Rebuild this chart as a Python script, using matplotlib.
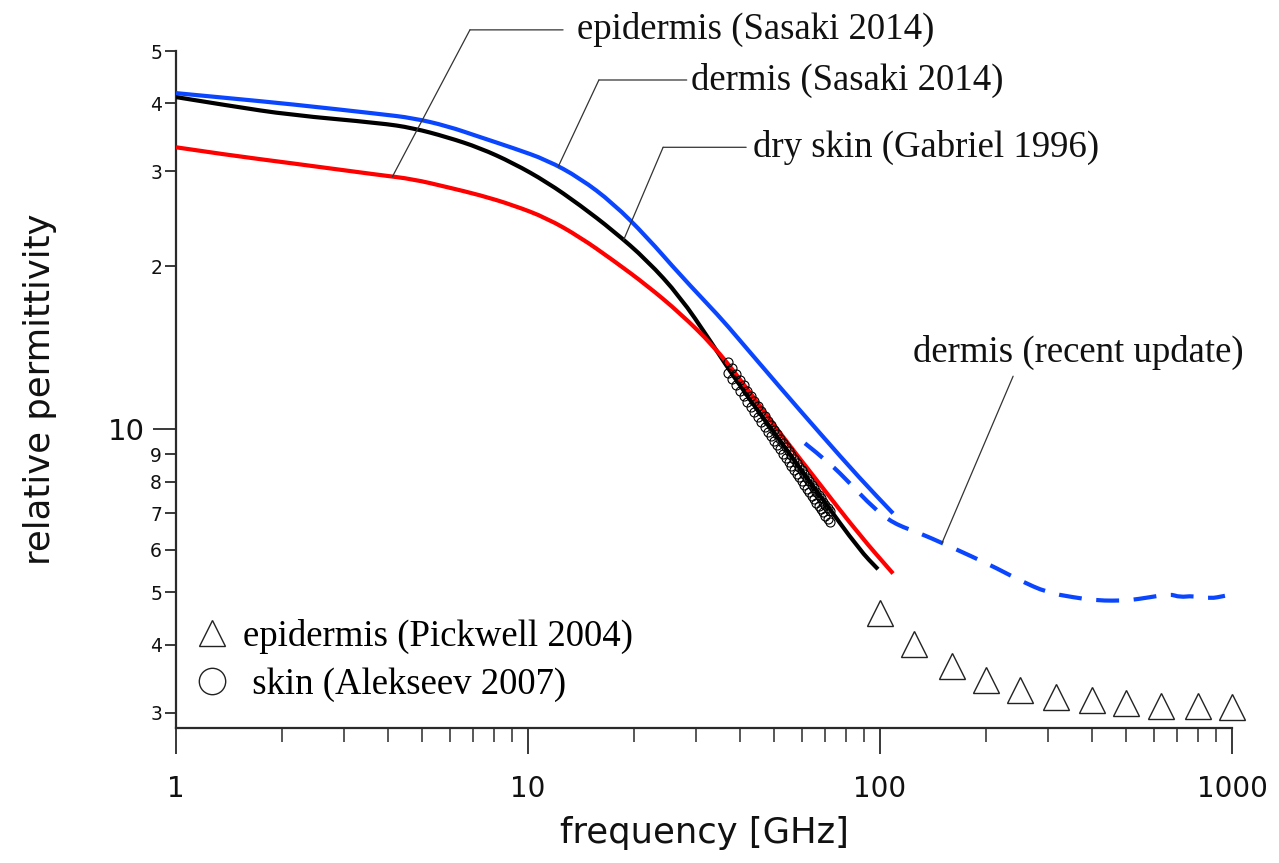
import numpy as np
import matplotlib
matplotlib.use("Agg")
import matplotlib.pyplot as plt
from matplotlib.ticker import FixedLocator, FixedFormatter, LogLocator, NullFormatter
from matplotlib.lines import Line2D
from matplotlib.path import Path
from matplotlib.patches import PathPatch

# ---------------- data ----------------
# epidermis (Sasaki 2014) - red
epi_f = [1, 1.42, 2.11, 3.80, 4.71, 5.89, 7.31, 9.07, 11.32, 14.05, 17.44, 21.78, 27.03, 33.55, 40.0,
         52.0, 67.5, 87.7, 108.9]
epi_eps = [33.2, 32.1, 31.05, 29.5, 29.0, 28.03, 27.09, 25.96, 24.56, 22.66, 20.54, 18.45, 16.4, 14.3, 12.4,
           9.84, 7.92, 6.37, 5.42]

# dermis (Sasaki 2014) - blue
der_f = [1, 1.42, 2.11, 3.80, 4.71, 5.89, 7.31, 9.07, 11.32, 14.05, 17.44, 21.78, 27.03, 35.12, 39.3,
         52.0, 67.5, 87.7, 108.9]
der_eps = [41.8, 40.9, 39.9, 38.24, 37.6, 36.35, 34.67, 33.1, 31.45, 29.12, 26.18, 22.66, 19.3, 16.12, 14.8,
           11.96, 9.84, 8.12, 7.0]

# dry skin (Gabriel 1996) - black
dry_f = [1, 1.42, 2.11, 3.80, 4.71, 5.89, 7.31, 9.07, 11.32, 14.05, 17.44, 21.78, 27.03, 32.9, 40.0,
         52.0, 67.5, 87.7, 98.7]
dry_eps = [41.1, 39.6, 38.1, 36.8, 36.04, 34.67, 33.1, 31.05, 28.63, 25.96, 23.3, 20.54, 17.6, 14.6, 12.02,
           9.55, 7.55, 5.98, 5.52]

# dermis (recent update) - blue dashed
new_f = [61.2, 72.1, 82.2, 95.5, 108.9, 130, 151, 180, 215, 250, 298, 353, 413, 503, 585, 666, 711, 774, 866, 955]
new_eps = [9.43, 8.66, 7.95, 7.18, 6.71, 6.43, 6.16, 5.85, 5.54, 5.26, 5.00, 4.90, 4.83, 4.83, 4.90, 4.97, 4.90,
           4.93, 4.87, 4.93]

# epidermis (Pickwell 2004) - triangles
pick_f = [100, 125, 160, 200, 250, 316, 400, 500, 630, 800, 1000]
pick_eps = [4.58, 4.02, 3.66, 3.44, 3.30, 3.20, 3.16, 3.12, 3.09, 3.08, 3.07]

# skin (Alekseev 2007) - circles
alek_f = [37, 38, 39, 40, 41, 42, 43, 44, 45, 46, 47, 48, 49, 50, 51, 52, 53, 54, 55, 56, 57, 58, 59, 60,
          61, 62, 63, 64, 65, 66, 67, 68, 69, 70, 71, 72]
alek_eps_a = [13.3, 12.97, 12.65, 12.35, 12.06, 11.79, 11.53, 11.28, 11.04, 10.81, 10.59, 10.38, 10.19, 9.99,
              9.80, 9.62, 9.45, 9.28, 9.13, 8.97, 8.82, 8.68, 8.54, 8.40, 8.27, 8.14, 8.02, 7.90, 7.79, 7.67,
              7.57, 7.46, 7.36, 7.26, 7.16, 7.07]
alek_eps_b = [12.70, 12.39, 12.08, 11.79, 11.52, 11.26, 11.01, 10.77, 10.54, 10.32, 10.11, 9.91, 9.73, 9.54,
              9.36, 9.19, 9.02, 8.86, 8.72, 8.57, 8.42, 8.29, 8.16, 8.02, 7.90, 7.77, 7.66, 7.54, 7.44, 7.32,
              7.23, 7.12, 7.03, 6.93, 6.84, 6.75]

x_ticks = [1, 10, 100, 1000]
x_ticklabels = ["1", "10", "100", "1000"]
y_major = [10]
y_major_labels = ["10"]
y_minor = [3, 4, 5, 6, 7, 8, 9, 20, 30, 40, 50]
y_minor_labels = ["3", "4", "5", "6", "7", "8", "9", "2", "3", "4", "5"]

# ---------------- figure ----------------
SERIF = ["Liberation Serif", "DejaVu Serif"]
SANS = ["DejaVu Sans"]
AX = "#2a2a2a"
BLUE = "#0a46ff"
RED = "#ff0000"

fig = plt.figure(figsize=(12.79, 8.63), dpi=100)
ax = fig.add_axes([176 / 1279, 1 - 728 / 863, (1232 - 176) / 1279, (728 - 51) / 863])
ax.set_xscale("log")
ax.set_yscale("log")
ax.set_xlim(1, 1000)
ax.set_ylim(2.81, 50)


def smooth_curve(xs, ys, **kw):
    """Draw the read points as a smooth quadratic-Bezier curve (points used as control points)."""
    pts = list(zip(xs, ys))
    verts = [pts[0]]
    codes = [Path.MOVETO]
    for i in range(1, len(pts) - 1):
        (x0, y0), (x1, y1) = pts[i], pts[i + 1]
        mid = (np.sqrt(x0 * x1), np.sqrt(y0 * y1))  # midpoint in log space
        verts += [pts[i], mid]
        codes += [Path.CURVE3, Path.CURVE3]
    verts.append(pts[-1])
    codes.append(Path.LINETO)
    patch = PathPatch(Path(verts, codes), fill=False, **kw)
    ax.add_patch(patch)
    return patch


smooth_curve(der_f, der_eps, edgecolor=BLUE, lw=3, capstyle="butt", zorder=3)
smooth_curve(dry_f, dry_eps, edgecolor="black", lw=3, capstyle="butt", zorder=3)
smooth_curve(epi_f, epi_eps, edgecolor=RED, lw=3, capstyle="butt", zorder=3)
smooth_curve(new_f, new_eps, edgecolor=BLUE, lw=3, linestyle=(0, (5.5, 3.5)), capstyle="butt", zorder=3)

ax.plot(alek_f, alek_eps_a, linestyle="none", marker="o", ms=6.5, mfc="none", mec="black", mew=0.8, zorder=4)
ax.plot(alek_f, alek_eps_b, linestyle="none", marker="o", ms=6.5, mfc="none", mec="black", mew=0.8, zorder=4)

ax.plot(pick_f, pick_eps, linestyle="none", marker="^", ms=19, mfc="none", mec="#222222", mew=1.0,
        clip_on=False, zorder=5)

# spines & ticks
for s in ["top", "right"]:
    ax.spines[s].set_visible(False)
for s in ["left", "bottom"]:
    ax.spines[s].set_color(AX)
    ax.spines[s].set_linewidth(1.6)

ax.xaxis.set_major_locator(FixedLocator(x_ticks))
ax.xaxis.set_major_formatter(FixedFormatter(x_ticklabels))
ax.xaxis.set_minor_locator(LogLocator(base=10, subs=np.arange(2, 10)))
ax.xaxis.set_minor_formatter(NullFormatter())
ax.tick_params(axis="x", which="major", direction="out", length=19, width=1.3, color=AX,
               labelsize=20, pad=15, labelcolor="#111111")
ax.tick_params(axis="x", which="minor", direction="out", length=10, width=1.1, color=AX)

ax.yaxis.set_major_locator(FixedLocator(y_major))
ax.yaxis.set_major_formatter(FixedFormatter(y_major_labels))
ax.yaxis.set_minor_locator(FixedLocator(y_minor))
ax.yaxis.set_minor_formatter(FixedFormatter(y_minor_labels))
ax.tick_params(axis="y", which="major", direction="out", length=16.5, width=1.3, color=AX,
               labelsize=21, pad=6, labelcolor="#111111")
ax.tick_params(axis="y", which="minor", direction="out", length=8, width=1.3, color=AX,
               labelsize=13.5, pad=2, labelcolor="#111111")
for lab in ax.get_xticklabels() + ax.get_yticklabels() + ax.get_yticklabels(minor=True):
    lab.set_family(SANS)

ax.set_xlabel("frequency [GHz]", fontsize=25.5, family=SANS, color="#111111")
ax.set_ylabel("relative permittivity", fontsize=25.5, family=SANS, color="#111111")
ax.xaxis.set_label_coords(0.5, -0.13)
ax.yaxis.set_label_coords(-0.113, 0.5)


def on_curve(f, xs, ys):
    return f, 10 ** np.interp(np.log10(f), np.log10(xs), np.log10(ys))


LW = 0.9
LC = "#333333"


def leader(label, target, elbow, text_off, gap):
    ax.annotate("", xy=target, xytext=elbow, xycoords="data", textcoords="data",
                arrowprops=dict(arrowstyle="-", color=LC, lw=LW, shrinkA=0, shrinkB=0),
                annotation_clip=False)
    ax.annotate(label, xy=elbow, xycoords="data", xytext=(text_off, 0), textcoords="offset pixels",
                ha="left", va="center", fontsize=26.5, family=SERIF, color="#111111",
                arrowprops=dict(arrowstyle="-", color=LC, lw=LW, shrinkA=gap, shrinkB=0,
                                relpos=(0, 0.5)),
                annotation_clip=False)


leader("epidermis (Sasaki 2014)", on_curve(4.12, epi_f, epi_eps), (6.84, 54.7), 107, 8)
leader("dermis (Sasaki 2014)", on_curve(12.2, der_f, der_eps), (15.9, 44.2), 92, 1)
leader("dry skin (Gabriel 1996)", on_curve(18.7, dry_f, dry_eps), (24.2, 33.2), 90, 3)

ax.annotate("dermis (recent update)", xy=on_curve(150, new_f, new_eps), xycoords="data",
            xytext=(367, 13.9), textcoords="data", ha="center", va="center",
            fontsize=26.5, family=SERIF, color="#111111",
            arrowprops=dict(arrowstyle="-", color=LC, lw=LW, shrinkA=3, shrinkB=0,
                            relpos=(0.31, 0.0)))

# legend
h_tri = Line2D([], [], linestyle="none", marker="^", ms=19, mfc="none", mec="#222222", mew=1.0)
h_circ = Line2D([], [], linestyle="none", marker="o", ms=19, mfc="none", mec="#222222", mew=1.0)
ax.legend([h_tri, h_circ], ["epidermis (Pickwell 2004)", " skin (Alekseev 2007)"],
          loc="center left", bbox_to_anchor=(0.0166, 0.1), frameon=False,
          borderaxespad=0, borderpad=0, handlelength=1.0, handletextpad=0.34,
          labelspacing=0.36, prop={"family": SERIF, "size": 26.5})

fig.savefig("out.png", dpi=100, facecolor="white")
